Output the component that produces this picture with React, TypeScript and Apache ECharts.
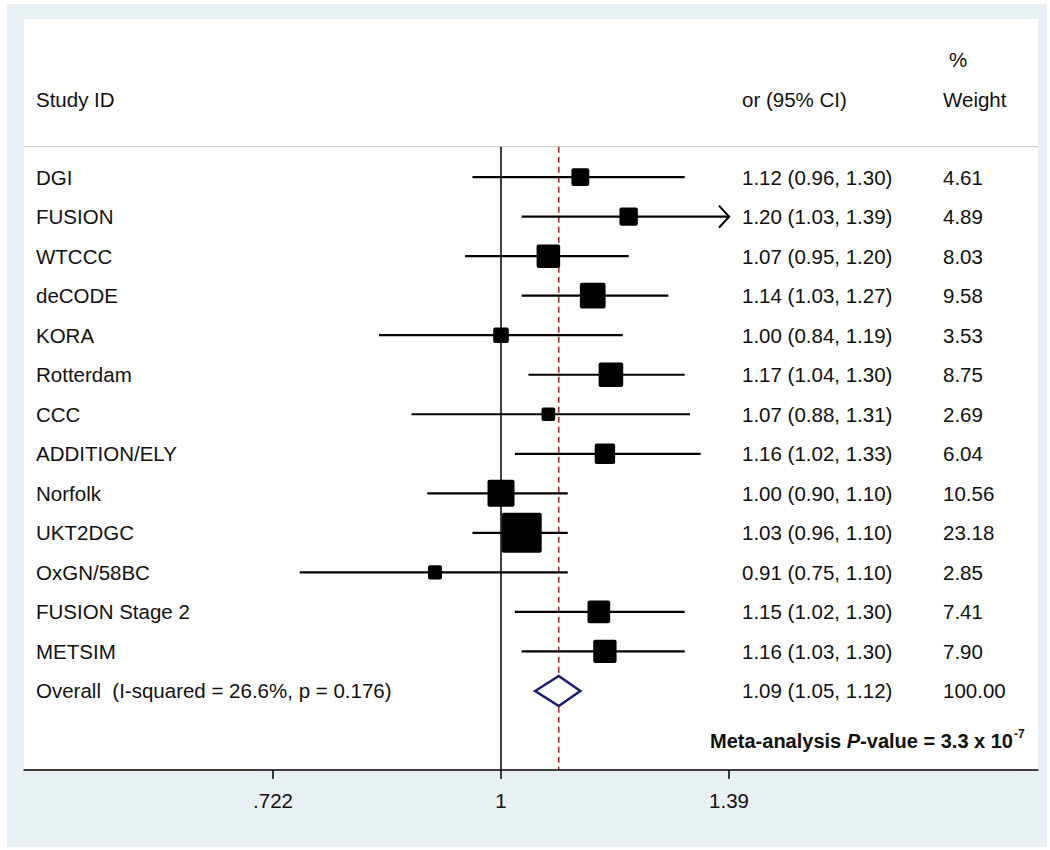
import React, { useEffect, useRef } from 'react';
import * as echarts from 'echarts';

// ---- data ----
const studies = ['DGI', 'FUSION', 'WTCCC', 'deCODE', 'KORA', 'Rotterdam', 'CCC', 'ADDITION/ELY', 'Norfolk', 'UKT2DGC', 'OxGN/58BC', 'FUSION Stage 2', 'METSIM'];
const orEst = [1.12, 1.20, 1.07, 1.14, 1.00, 1.17, 1.07, 1.16, 1.00, 1.03, 0.91, 1.15, 1.16];
const ciLow = [0.96, 1.03, 0.95, 1.03, 0.84, 1.04, 0.88, 1.02, 0.90, 0.96, 0.75, 1.02, 1.03];
const ciHigh = [1.30, 1.39, 1.20, 1.27, 1.19, 1.30, 1.31, 1.33, 1.10, 1.10, 1.10, 1.30, 1.30];
const weights = [4.61, 4.89, 8.03, 9.58, 3.53, 8.75, 2.69, 6.04, 10.56, 23.18, 2.85, 7.41, 7.90];
const overallLabel = 'Overall  (I-squared = 26.6%, p = 0.176)';
const overallEst = 1.086;
const overallLow = 1.05;
const overallHigh = 1.12;
const overallText = '1.09 (1.05, 1.12)';
const overallWeight = '100.00';
const tickValues = [0.722, 1, 1.385];
const tickLabels = ['.722', '1', '1.39'];
const axisRange = [0.5059, 2.1535];

const FONT = "'Liberation Sans', Arial, Helvetica, sans-serif";
const TXT = '#111';
const FS = 20.5;

const fmt = (v: number) => v.toFixed(2);

export default function App() {
  const ref = useRef<HTMLDivElement>(null);
  useEffect(() => {
    if (!ref.current) return;
    const chart = echarts.init(ref.current, null, { renderer: 'svg' });
    const xMin = Math.log(axisRange[0]);
    const xMax = Math.log(axisRange[1]);
    const clipLo = Math.log(tickValues[0]);
    const clipHi = Math.log(tickValues[tickValues.length - 1]);
    const sepRow = -0.77;
    const nRows = studies.length;

    const ciData = studies.map((_, i) => [Math.log(ciLow[i]), Math.log(orEst[i]), Math.log(ciHigh[i]), i, weights[i]]);
    const textRows = studies.map((s, i) => ({
      label: s,
      or: `${fmt(orEst[i])} (${fmt(ciLow[i])}, ${fmt(ciHigh[i])})`,
      w: fmt(weights[i]),
    }));
    textRows.push({ label: overallLabel, or: overallText, w: overallWeight });

    const txt = (x: number, y: number, text: string, extra: any = {}) => ({
      type: 'text', x, y,
      style: { text, fontSize: FS, fontFamily: FONT, fill: TXT, align: 'left', verticalAlign: 'middle', ...extra },
    });

    const option: any = {
      animation: false,
      backgroundColor: '#ffffff',
      grid: { left: 24, right: 12, top: 19, bottom: 80, containLabel: false },
      xAxis: {
        type: 'value', min: xMin, max: xMax, z: 5,
        splitLine: { show: false },
        axisLine: { show: true, onZero: false, lineStyle: { color: '#000', width: 1.5 } },
        axisTick: { show: true, length: 9, lineStyle: { color: '#000', width: 1.5 }, customValues: tickValues.map(Math.log) },
        axisLabel: {
          customValues: tickValues.map(Math.log), fontSize: FS, fontFamily: FONT, color: TXT, margin: 20,
          formatter: (v: number) => {
            let best = 0;
            tickValues.forEach((t, k) => { if (Math.abs(Math.log(t) - v) < Math.abs(Math.log(tickValues[best]) - v)) best = k; });
            return tickLabels[best];
          },
        },
      },
      yAxis: { type: 'value', min: -4, max: 15, inverse: true, show: false },
      graphic: [
        { type: 'rect', z: -10, shape: { x: 7, y: 4, width: 1040, height: 843 }, style: { fill: '#e9f0f3' }, silent: true },
        { type: 'rect', z: -9, shape: { x: 24, y: 19, width: 1014, height: 751 }, style: { fill: '#ffffff' }, silent: true },
        { ...txt(36, 99, 'Study ID'), z: 10 },
        { ...txt(742, 99, 'or (95% CI)'), z: 10 },
        { ...txt(949, 59, '%'), z: 10 },
        { ...txt(943, 99, 'Weight'), z: 10 },
        {
          type: 'text', z: 10, x: 1013, y: 741,
          style: {
            text: '{b|Meta-analysis }{bi|P}{b|-value = 3.3 x 10}', align: 'right', verticalAlign: 'middle',
            rich: {
              b: { fontSize: 20, fontWeight: 'bold', fontFamily: FONT, fill: TXT },
              bi: { fontSize: 20, fontWeight: 'bold', fontStyle: 'italic', fontFamily: FONT, fill: TXT },
            },
          },
        },
        { type: 'text', z: 10, x: 1014, y: 734, style: { text: '-7', fontSize: 12, fontWeight: 'bold', fontFamily: FONT, fill: TXT, align: 'left', verticalAlign: 'middle' } },
      ],
      series: [
        {
          type: 'line', silent: true, z: 1, symbol: 'none',
          data: [[xMin, sepRow], [xMax, sepRow]],
          lineStyle: { color: '#c4c4c4', width: 1 },
        },
        {
          type: 'line', silent: true, z: 1, symbol: 'none',
          data: [[0, sepRow], [0, 15]],
          lineStyle: { color: '#000', width: 1.5 },
        },
        {
          type: 'line', silent: true, z: 1, symbol: 'none',
          data: [[Math.log(overallEst), sepRow], [Math.log(overallEst), 15]],
          lineStyle: { color: '#a3282c', width: 1.5, type: [6, 4] },
        },
        {
          type: 'custom', silent: true, z: 3,
          data: ciData,
          encode: { x: [0, 1, 2], y: 3 },
          renderItem: (params: any, api: any) => {
            const row = api.value(3);
            const hiV = api.value(2);
            const pLo = api.coord([Math.max(api.value(0), clipLo), row]);
            const pHi = api.coord([Math.min(hiV, clipHi), row]);
            const pE = api.coord([api.value(1), row]);
            const side = 8.31 * Math.sqrt(api.value(4));
            const children: any[] = [
              { type: 'line', shape: { x1: pLo[0], y1: pLo[1], x2: pHi[0], y2: pHi[1] }, style: { stroke: '#000', lineWidth: 2.2 } },
              { type: 'rect', shape: { x: pE[0] - side / 2, y: pE[1] - side / 2, width: side, height: side, r: 2 }, style: { fill: '#000' } },
            ];
            if (hiV > clipHi) {
              children.push({ type: 'polyline', shape: { points: [[pHi[0] - 10, pHi[1] - 11], [pHi[0], pHi[1]], [pHi[0] - 10, pHi[1] + 11]] }, style: { stroke: '#000', lineWidth: 2.2, fill: null } });
            }
            return { type: 'group', children };
          },
        },
        {
          type: 'custom', silent: true, z: 3,
          data: [[Math.log(overallLow), Math.log(overallEst), Math.log(overallHigh), nRows]],
          encode: { x: [0, 1, 2], y: 3 },
          renderItem: (params: any, api: any) => {
            const row = api.value(3);
            const a = api.coord([api.value(0), row]);
            const c = api.coord([api.value(1), row]);
            const b = api.coord([api.value(2), row]);
            const h = 15;
            return {
              type: 'polygon',
              shape: { points: [[a[0], a[1]], [c[0], c[1] - h], [b[0], b[1]], [c[0], c[1] + h]] },
              style: { fill: '#fff', stroke: '#1b1b72', lineWidth: 2.5 },
            };
          },
        },
        {
          type: 'custom', silent: true, z: 4,
          data: textRows.map((_, i) => [0, i]),
          encode: { x: 0, y: 1 },
          renderItem: (params: any, api: any) => {
            const r = textRows[params.dataIndex];
            const y = api.coord([0, api.value(1)])[1];
            return {
              type: 'group',
              children: [txt(36, y, r.label), txt(742, y, r.or), txt(943, y, r.w)],
            };
          },
        },
      ],
    };
    chart.setOption(option);
    return () => chart.dispose();
  }, []);
  return <div ref={ref} style={{ position: 'absolute', left: 0, top: 0, width: 1050, height: 850 }} />;
}
